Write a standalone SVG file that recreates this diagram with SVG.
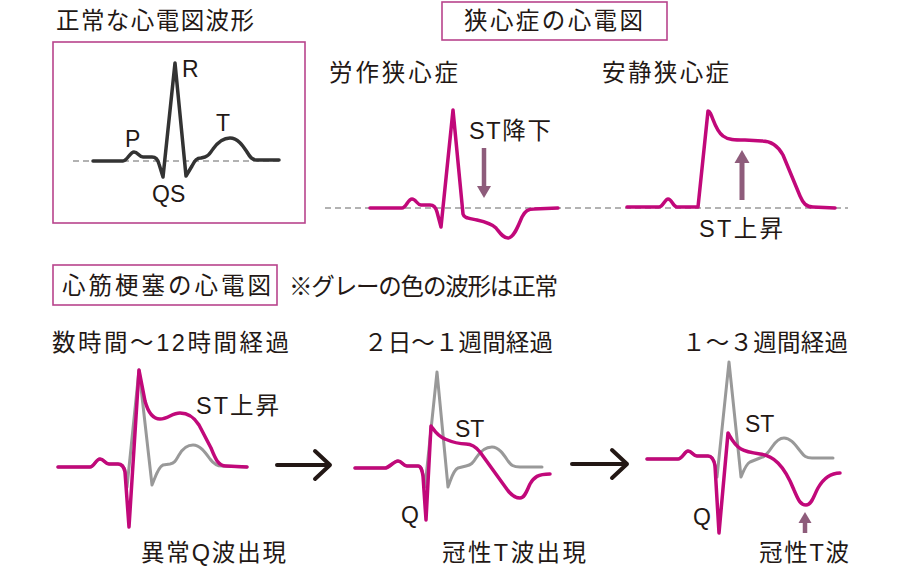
<svg xmlns="http://www.w3.org/2000/svg" width="900" height="566" viewBox="0 0 900 566">
<style>
text{font-family:"Liberation Sans","Noto Sans CJK JP",sans-serif;font-size:23.5px;fill:#231815}
.lat{font-size:23px}
.box{fill:none;stroke:#b8448c;stroke-width:1.6}
.ecg{fill:none;stroke-linejoin:round;stroke-linecap:round}
.n{stroke:#333333;stroke-width:3.5}
.m{stroke:#c1087a;stroke-width:3.5}
.g{stroke:#999999;stroke-width:3}
.base{stroke:#999999;stroke-width:1.3;stroke-dasharray:6 4;fill:none}
.blk{fill:none;stroke:#231815;stroke-width:4;stroke-linecap:round;stroke-linejoin:round}
.mv{fill:#8e5c7b}
</style>
<rect width="900" height="566" fill="#ffffff"/>

<g id="normal">
  <text x="56" y="29" textLength="198" lengthAdjust="spacing">正常な心電図波形</text>
  <rect class="box" x="53" y="42" width="252" height="181"/>
  <line class="base" x1="73" y1="161" x2="280" y2="161"/>
  <path class="ecg n" d="M93,161 L123,161 C127,161 130,152 134,152 C138,152 139,157 143,157 L152,157 C156,157 158,160 159,164 L163,177 L175,63 L186,176 L192,166 C195,160 197,158 201,158 L205,157 C209,156 210,153 213,149 C218,142 223,138 230,138 C238,138 243,146 247,152 C250,157 252,160 257,160 L279,160"/>
  <text class="lat" x="182" y="77">R</text>
  <text class="lat" x="125" y="147">P</text>
  <text class="lat" x="216" y="131">T</text>
  <text class="lat" x="152" y="202">QS</text>
</g>

<g id="angina-title">
  <rect class="box" x="442" y="2" width="225" height="38"/>
  <text x="464" y="29" textLength="179" lengthAdjust="spacing">狭心症の心電図</text>
</g>

<line class="base" x1="325" y1="208" x2="848" y2="208"/>

<g id="exertional">
  <text x="329" y="81" textLength="129" lengthAdjust="spacing">労作狭心症</text>
  <path class="ecg m" d="M370,208 L402,208 C406,208 408,199 412,199 C416,199 417,205 421,205 L430,205 C434,205 436,208 437,212 L441,227 L453,110 L463,214 C464,218 468,218 477,220 C486,222 492,224 496,228 C500,233 503,238 508,238 C514,238 518,226 522,217 C525,211 528,209 534,209 L558,208"/>
  <text x="469" y="139" textLength="82" lengthAdjust="spacing">ST降下</text>
  <rect class="mv" x="481.75" y="148" width="4.5" height="40"/>
  <polygon class="mv" points="477,186 491,186 484,198"/>
</g>

<g id="rest">
  <text x="602" y="81" textLength="127" lengthAdjust="spacing">安静狭心症</text>
  <path class="ecg m" d="M627,207 L659,207 C663,207 665,199 668,199 C672,199 673,207 677,207 L698,207 L708,111 C712,111 714,130 723,136 C728,140 735,140 745,140 L762,141 C772,141 778,146 783,155 L800,196 C803,203 806,207 813,207 L835,208"/>
  <rect class="mv" x="739.5" y="161" width="5" height="39"/>
  <polygon class="mv" points="734.5,163 749.5,163 742,150"/>
  <text x="699" y="237" textLength="84" lengthAdjust="spacing">ST上昇</text>
</g>

<g id="mi-title">
  <rect class="box" x="53" y="265" width="224" height="40"/>
  <text x="62" y="294" textLength="209" lengthAdjust="spacing">心筋梗塞の心電図</text>
  <text x="289" y="295" textLength="269" lengthAdjust="spacing">※グレーの色の波形は正常</text>
</g>

<g id="mi-hours">
  <text x="52" y="351" textLength="237" lengthAdjust="spacing">数時間～12時間経過</text>
  <path class="ecg g" d="M58,467 L90,467 C94,467 96,459 100,459 C104,459 105,464 109,464 L118,464 C122,464 124,467 125,470 L127,487 L139,370 L152,485 C155,478 158,467 163,465 L170,464 C175,463 176,460 179,455 C183,448 188,445 193,445 C200,445 205,452 210,459 C213,463 216,466 222,466 L247,467"/>
  <path class="ecg m" d="M58,467 L90,467 C94,467 96,459 100,459 C104,459 105,464 109,464 L118,464 C122,464 124,467 125,472 L129,527 L139,370 L145,401 C148,412 152,419 160,419 C168,419 172,413 180,413 C188,413 194,417 199,425 L211,448 C215,458 218,466 226,466 L247,467"/>
  <text x="196" y="414" textLength="83" lengthAdjust="spacing">ST上昇</text>
  <text x="141" y="561" textLength="145" lengthAdjust="spacing">異常Q波出現</text>
</g>

<g id="mi-days">
  <text x="364" y="351" textLength="189" lengthAdjust="spacing">２日～１週間経過</text>
  <path class="ecg g" d="M355,468 L385,468 C389,468 394,461 398,461 C402,461 403,466 407,466 L418,466 C421,466 422,470 423,474 L425,487 L437,372 L448,487 C451,480 453,470 458,468 L466,466 C471,465 473,463 476,458 C481,450 486,447 492,447 C499,447 504,455 508,461 C511,465 513,467 520,467 L542,467"/>
  <path class="ecg m" d="M355,468 L385,468 C389,468 394,461 398,461 C402,461 403,466 407,466 L418,466 C421,466 422,470 423,476 L426,520 L431,426 C434,430 437,436 445,439 C452,442 458,444 466,444 C472,444 476,447 480,452 L506,488 C510,494 514,498 520,498 C525,498 527,490 530,484 C534,477 538,474 550,474"/>
  <text class="lat" x="455" y="437">ST</text>
  <text class="lat" x="401" y="523">Q</text>
  <text x="442" y="561" textLength="144" lengthAdjust="spacing">冠性T波出現</text>
</g>

<g id="mi-weeks">
  <text x="682" y="351" textLength="166" lengthAdjust="spacing">１～３週間経過</text>
  <path class="ecg g" d="M647,459 L678,459 C682,459 685,451 688,451 C692,451 693,456 697,456 L708,456 C712,456 714,460 715,465 L717,477 L729,362 L741,477 C744,470 746,464 750,462 L760,458 C765,457 768,453 772,447 C776,441 779,438 784,438 C791,438 796,446 801,452 C804,456 806,458 812,458 L833,458"/>
  <path class="ecg m" d="M647,459 L678,459 C682,459 685,451 688,451 C692,451 693,456 697,456 L708,456 C712,456 714,460 715,466 L719,533 L728,433 C731,438 734,445 741,449 C746,452 753,453 760,454 C768,455 773,458 778,463 C784,469 790,480 794,490 C798,499 800,505 806,505 C812,505 814,495 818,488 C822,481 828,473 840,473"/>
  <text class="lat" x="745" y="432">ST</text>
  <text class="lat" x="693" y="525">Q</text>
  <rect class="mv" x="802.75" y="521" width="4.5" height="12"/>
  <polygon class="mv" points="798.5,523 811.5,523 805,512"/>
  <text x="759" y="561" textLength="90" lengthAdjust="spacing">冠性T波</text>
</g>

<g id="connectors">
  <path class="blk" d="M277,465 H329 M315,451 L330,465 L315,479"/>
  <path class="blk" d="M572,464 H627 M612,450 L627,464 L612,478"/>
</g>
</svg>
